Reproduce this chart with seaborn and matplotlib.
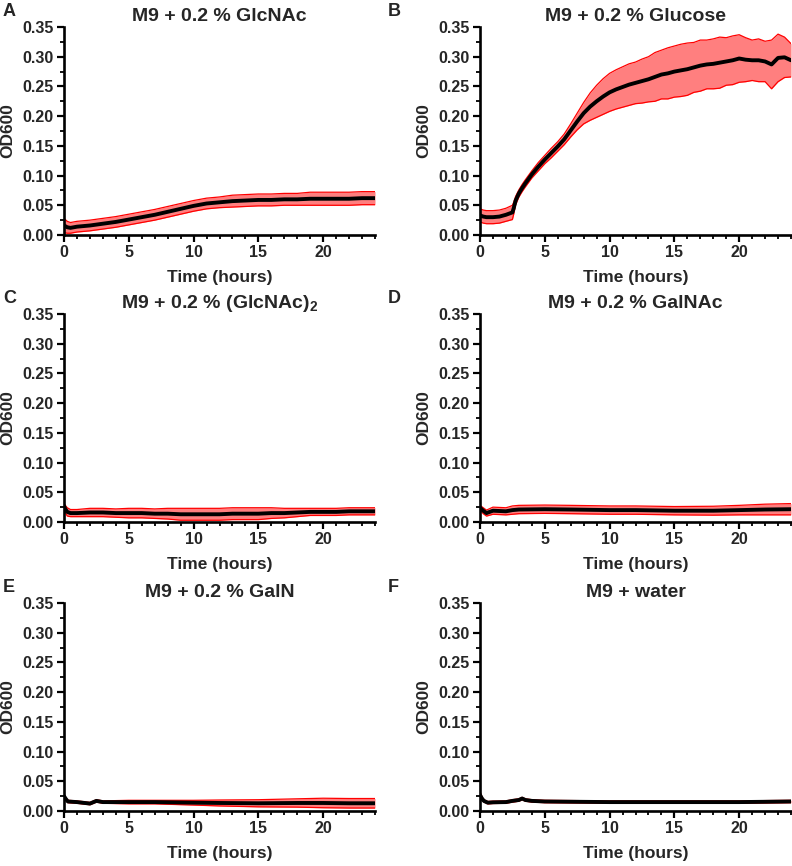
import matplotlib
matplotlib.use("Agg")
import matplotlib.pyplot as plt
import numpy as np
import seaborn as sns
from matplotlib.ticker import FormatStrFormatter, MultipleLocator

# panel A: GlcNAc
TIME_A = [0, 0.25, 0.5, 1, 2, 3, 4, 5, 6, 7, 8, 9, 10, 11, 12, 13, 14, 15, 16, 17, 18, 19, 20, 21, 22, 23, 24]
MEAN_A = [0.016, 0.013, 0.012, 0.014, 0.016, 0.019, 0.022, 0.026, 0.030, 0.034, 0.039, 0.044, 0.049, 0.053,
          0.055, 0.057, 0.058, 0.059, 0.059, 0.060, 0.060, 0.061, 0.061, 0.061, 0.061, 0.062, 0.062]
SD_A = [0.012, 0.010, 0.009, 0.009, 0.009, 0.009, 0.009, 0.009, 0.009, 0.009, 0.009, 0.009, 0.009, 0.009,
        0.009, 0.010, 0.010, 0.010, 0.010, 0.010, 0.010, 0.011, 0.011, 0.011, 0.011, 0.011, 0.011]

# panel B: glucose
TIME_B = [0, 0.25, 0.5, 1, 1.5, 2, 2.5, 2.6, 2.75, 3, 3.25, 3.5, 4, 4.5, 5, 5.5, 6, 6.5, 7, 7.5, 8, 8.5, 9,
          9.5, 10, 10.5, 11, 11.5, 12, 12.5, 13, 13.5, 14, 14.5, 15, 15.5, 16, 16.5, 17, 17.5, 18, 18.5, 19,
          19.5, 20, 20.5, 21, 21.5, 22, 22.5, 23, 23.5, 24]
MEAN_B = [0.033, 0.031, 0.030, 0.030, 0.031, 0.034, 0.038, 0.045, 0.058, 0.070, 0.079, 0.087, 0.102, 0.115,
          0.127, 0.138, 0.149, 0.161, 0.176, 0.191, 0.205, 0.216, 0.225, 0.233, 0.240, 0.245, 0.249, 0.253,
          0.256, 0.259, 0.262, 0.266, 0.270, 0.272, 0.275, 0.277, 0.279, 0.282, 0.285, 0.287, 0.288, 0.290,
          0.292, 0.294, 0.297, 0.295, 0.294, 0.294, 0.292, 0.287, 0.298, 0.299, 0.294]
SD_B = [0.011, 0.011, 0.011, 0.011, 0.011, 0.011, 0.012, 0.010, 0.007, 0.006, 0.006, 0.006, 0.006, 0.007,
        0.007, 0.008, 0.008, 0.009, 0.011, 0.014, 0.018, 0.023, 0.027, 0.030, 0.032, 0.033, 0.034, 0.035,
        0.035, 0.037, 0.038, 0.041, 0.041, 0.043, 0.043, 0.044, 0.044, 0.042, 0.043, 0.041, 0.042, 0.043,
        0.040, 0.041, 0.040, 0.037, 0.034, 0.036, 0.034, 0.041, 0.040, 0.034, 0.028]

# panel C: (GlcNAc)2
TIME_C = [0, 0.1, 0.25, 0.5, 1, 2, 3, 4, 5, 6, 7, 8, 9, 10, 11, 12, 13, 14, 15, 16, 17, 18, 19, 20, 21, 22, 23, 24]
MEAN_C = [0.027, 0.022, 0.017, 0.015, 0.015, 0.016, 0.016, 0.015, 0.015, 0.015, 0.014, 0.014, 0.013, 0.013,
          0.013, 0.013, 0.014, 0.014, 0.014, 0.015, 0.015, 0.016, 0.017, 0.017, 0.017, 0.018, 0.018, 0.018]
SD_C = [0.004, 0.006, 0.007, 0.006, 0.006, 0.007, 0.007, 0.007, 0.008, 0.008, 0.008, 0.009, 0.010, 0.010,
        0.010, 0.010, 0.010, 0.010, 0.010, 0.009, 0.008, 0.007, 0.006, 0.006, 0.006, 0.006, 0.006, 0.006]

# panel D: GalNAc
TIME_D = [0, 0.25, 0.5, 1, 2, 2.5, 3, 5, 7, 10, 12, 15, 18, 20, 22, 24]
MEAN_D = [0.024, 0.019, 0.015, 0.019, 0.018, 0.020, 0.021, 0.0215, 0.021, 0.020, 0.020, 0.019, 0.019, 0.020,
          0.021, 0.0215]
SD_D = [0.004, 0.005, 0.005, 0.006, 0.006, 0.007, 0.007, 0.007, 0.007, 0.007, 0.007, 0.007, 0.0075, 0.008,
        0.009, 0.0095]

# panel E: GalN
TIME_E = [0, 0.15, 0.3, 1, 2, 2.5, 3, 5, 7, 10, 12, 15, 18, 20, 22, 24]
MEAN_E = [0.025, 0.020, 0.016, 0.015, 0.0125, 0.017, 0.015, 0.015, 0.015, 0.014, 0.0135, 0.013, 0.0135,
          0.0135, 0.013, 0.013]
SD_E = [0.002, 0.002, 0.002, 0.002, 0.002, 0.002, 0.002, 0.003, 0.003, 0.004, 0.005, 0.006, 0.007, 0.008,
        0.008, 0.008]

# panel F: water
TIME_F = [0, 0.15, 0.3, 0.6, 1, 2, 2.5, 3, 3.25, 3.5, 4, 5, 10, 15, 20, 24]
MEAN_F = [0.027, 0.021, 0.017, 0.014, 0.0146, 0.015, 0.017, 0.0185, 0.021, 0.0185, 0.017, 0.016, 0.015,
          0.015, 0.015, 0.016]
SD_F = [0.006, 0.003, 0.002, 0.002, 0.002, 0.002, 0.002, 0.002, 0.002, 0.002, 0.002, 0.002, 0.002, 0.002,
        0.002, 0.002]

TITLES = ["M9 + 0.2 % GlcNAc", "M9 + 0.2 % Glucose", r"M9 + 0.2 % (GlcNAc)$_\mathbf{2}$",
          "M9 + 0.2 % GalNAc", "M9 + 0.2 % GalN", "M9 + water"]
LETTERS = ["A", "B", "C", "D", "E", "F"]

sns.set_style("ticks")
plt.rcParams["font.family"] = ["Liberation Sans", "DejaVu Sans"]
plt.rcParams["font.weight"] = "bold"
plt.rcParams["mathtext.fontset"] = "custom"
plt.rcParams["mathtext.bf"] = "Liberation Sans:bold"
plt.rcParams["mathtext.rm"] = "Liberation Sans:bold"

panels = [
    (TIME_A, MEAN_A, SD_A),
    (TIME_B, MEAN_B, SD_B),
    (TIME_C, MEAN_C, SD_C),
    (TIME_D, MEAN_D, SD_D),
    (TIME_E, MEAN_E, SD_E),
    (TIME_F, MEAN_F, SD_F),
]

W, H = 792, 866
fig = plt.figure(figsize=(W / 100, H / 100), dpi=100)

lefts = [64, 480]
tops = [27, 314, 603]
ax_w, ax_h = 311, 208

for i, (t, m, sd) in enumerate(panels):
    row, col = divmod(i, 2)
    left = lefts[col]
    top = tops[row]
    ax = fig.add_axes([left / W, 1 - (top + ax_h) / H, ax_w / W, ax_h / H])

    t = np.array(t)
    m = np.array(m)
    sd = np.array(sd)
    lo, hi = m - sd, m + sd

    ax.fill_between(t, lo, hi, color="#ff7f7f", lw=0, zorder=1)
    ax.plot(t, lo, color="red", lw=0.9, zorder=2)
    ax.plot(t, hi, color="red", lw=0.9, zorder=2)
    sns.lineplot(x=t, y=m, ax=ax, color="black", lw=2.8, zorder=3)

    ax.set_xlim(0, 24)
    ax.set_ylim(0, 0.35)
    ax.xaxis.set_major_locator(MultipleLocator(5))
    ax.xaxis.set_minor_locator(MultipleLocator(1))
    ax.yaxis.set_major_locator(MultipleLocator(0.05))
    ax.yaxis.set_minor_locator(MultipleLocator(0.025))
    ax.yaxis.set_major_formatter(FormatStrFormatter("%.2f"))

    ax.tick_params(which="major", length=5, width=1.6, labelsize=11.5, pad=2.5, color="black")
    ax.tick_params(which="minor", length=3, width=1.3, color="black")
    for lab in ax.get_xticklabels() + ax.get_yticklabels():
        lab.set_fontweight("bold")
    sns.despine(ax=ax)
    for s in ["left", "bottom"]:
        ax.spines[s].set_linewidth(1.9)
        ax.spines[s].set_color("black")

    ax.set_xlabel("Time (hours)", fontsize=12.5, fontweight="bold", labelpad=7)
    ax.set_ylabel("OD600", fontsize=12.5, fontweight="bold", labelpad=5)
    ax.set_title(TITLES[i], fontsize=14, fontweight="bold", pad=4)

    lx = 3 if col == 0 else 388
    ly = top - 24
    fig.text(lx / W, 1 - ly / H, LETTERS[i], fontsize=13, fontweight="bold", va="top", ha="left")

fig.savefig("out.png", dpi=100)
